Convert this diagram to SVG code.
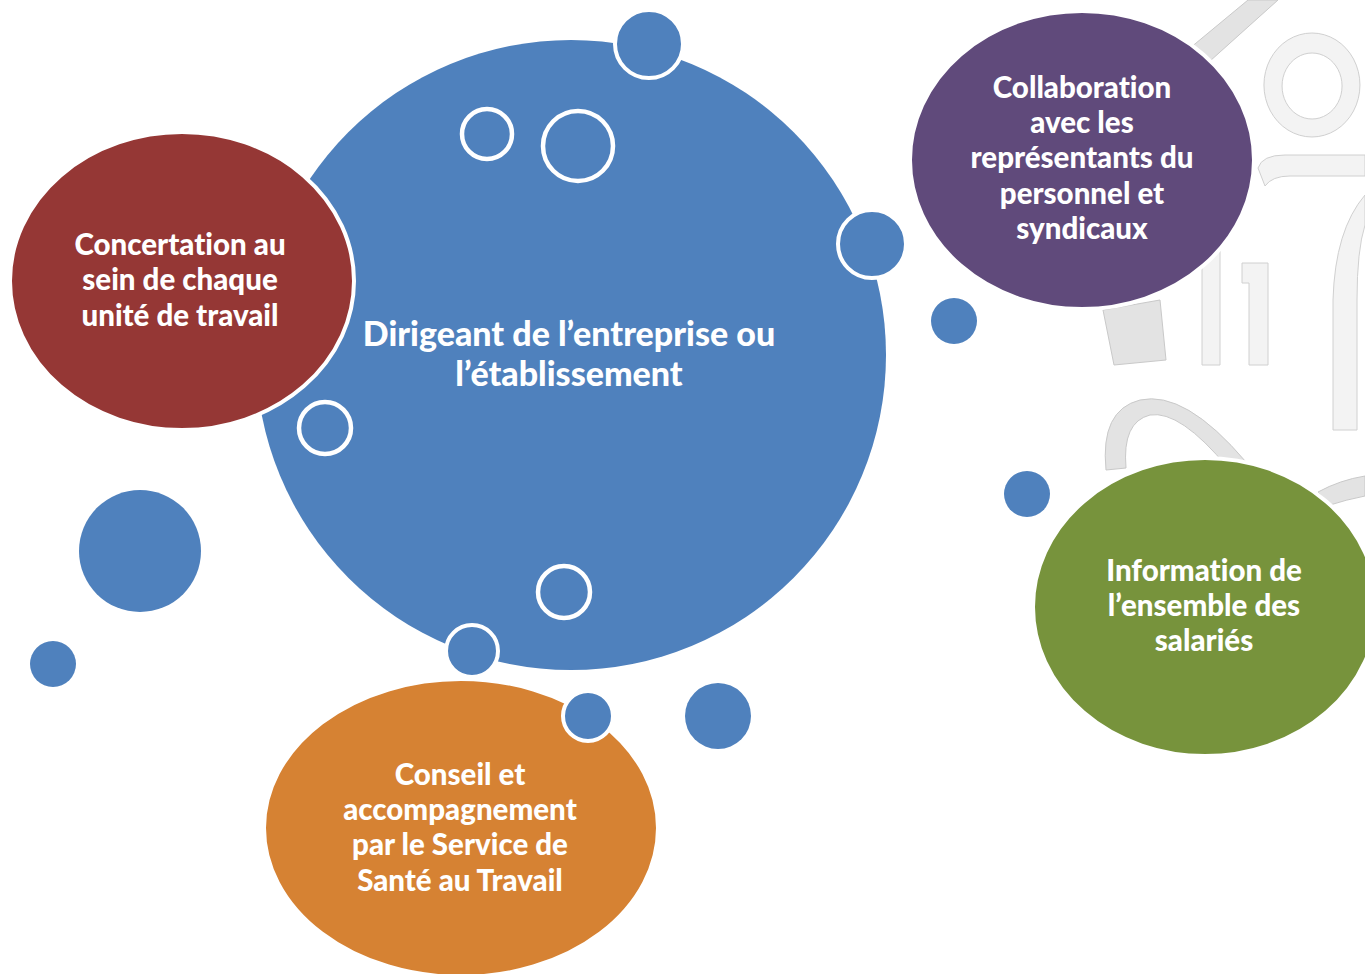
<svg xmlns="http://www.w3.org/2000/svg" width="1365" height="974" viewBox="0 0 1365 974">
<style>
.bg{fill:#E3E3E3;stroke:#C9C9C9;stroke-width:1}
.bgl{fill:#F3F3F3;stroke:#D0D0D0;stroke-width:1}
.t{font-family:Lato,"Open Sans",sans-serif;font-weight:900;fill:#fff;text-anchor:middle;font-size:29.5px;font-variant-ligatures:none}
.tc{font-size:34px}
.dot{fill:#4F81BD}
.dotw{fill:#4F81BD;stroke:#fff;stroke-width:4}
.ring{fill:none;stroke:#fff;stroke-width:4.5}
.node{stroke:#fff;stroke-width:4}
</style>
<rect width="1365" height="974" fill="#fff"/>
<g id="background">
<path class="bg" d="M1178,58 L1248,0 L1278,0 L1200,70 Z"/>
<path class="bgl" fill-rule="evenodd" d="M1312,33 A48,52 0 1 1 1311.9,33 Z M1312,53 A30,33 0 1 0 1312.1,53 Z"/>
<path class="bgl" d="M1258,168 Q1262,155 1285,155 L1365,155 L1365,176 L1290,176 Q1272,176 1265,186 Z"/>
<path class="bgl" d="M1333,430 L1333,300 Q1335,230 1365,195 L1365,225 Q1357,250 1357,300 L1357,430 Z"/>
<path class="bgl" d="M1242,263 L1268,263 L1268,365 L1249,365 L1249,283 L1242,283 Z"/>
<path class="bgl" d="M1202,250 L1220,250 L1220,365 L1202,365 Z"/>
<path class="bg" d="M1103,310 L1160,300 L1166,360 L1114,365 Z"/>
<path class="bg" d="M1106,470 Q1100,410 1140,400 Q1185,390 1246,462 L1228,468 Q1180,410 1150,415 Q1122,422 1126,468 Z"/>
<path class="bg" d="M1318,492 Q1340,480 1365,476 L1365,496 Q1345,500 1330,505 Z"/>
</g>
<g id="node-center">
<circle cx="571" cy="355" r="315" fill="#4F81BD"/>
<text class="t tc" x="569" y="346">Dirigeant de l’entreprise ou</text>
<text class="t tc" x="569" y="386">l’établissement</text>
</g>
<g id="node-concertation">
<ellipse class="node" cx="182" cy="281" rx="172" ry="149" fill="#953735"/>
<text class="t" x="180" y="255">Concertation au</text>
<text class="t" x="180" y="290">sein de chaque</text>
<text class="t" x="180" y="326">unité de travail</text>
</g>
<g id="node-collaboration">
<ellipse class="node" cx="1082" cy="160" rx="172" ry="149" fill="#604A7B"/>
<text class="t" x="1082" y="98">Collaboration</text>
<text class="t" x="1082" y="133">avec les</text>
<text class="t" x="1082" y="168">représentants du</text>
<text class="t" x="1082" y="204">personnel et</text>
<text class="t" x="1082" y="239">syndicaux</text>
</g>
<g id="node-information">
<ellipse class="node" cx="1205" cy="607" rx="172" ry="149" fill="#77933C"/>
<text class="t" x="1204" y="581">Information de</text>
<text class="t" x="1204" y="616">l’ensemble des</text>
<text class="t" x="1204" y="651">salariés</text>
</g>
<g id="node-conseil">
<ellipse class="node" cx="461" cy="828" rx="197" ry="149" fill="#D68233"/>
<text class="t" x="460" y="785">Conseil et</text>
<text class="t" x="460" y="820">accompagnement</text>
<text class="t" x="460" y="855">par le Service de</text>
<text class="t" x="460" y="891">Santé au Travail</text>
</g>
<g id="connectors">
<circle class="dotw" cx="649" cy="44" r="34"/>
<circle class="ring" cx="487" cy="134" r="25"/>
<circle class="ring" cx="578" cy="146" r="35"/>
<circle class="dotw" cx="872" cy="244" r="34"/>
<circle class="dot" cx="954" cy="321" r="23"/>
<circle class="ring" cx="325" cy="428" r="26"/>
<circle class="dot" cx="140" cy="551" r="61"/>
<circle class="dot" cx="53" cy="664" r="23"/>
<circle class="ring" cx="564" cy="592" r="26"/>
<circle class="dotw" cx="472" cy="651" r="26"/>
<circle class="dotw" cx="588" cy="716" r="25"/>
<circle class="dot" cx="718" cy="716" r="33"/>
<circle class="dot" cx="1027" cy="494" r="23"/>
</g>
</svg>
